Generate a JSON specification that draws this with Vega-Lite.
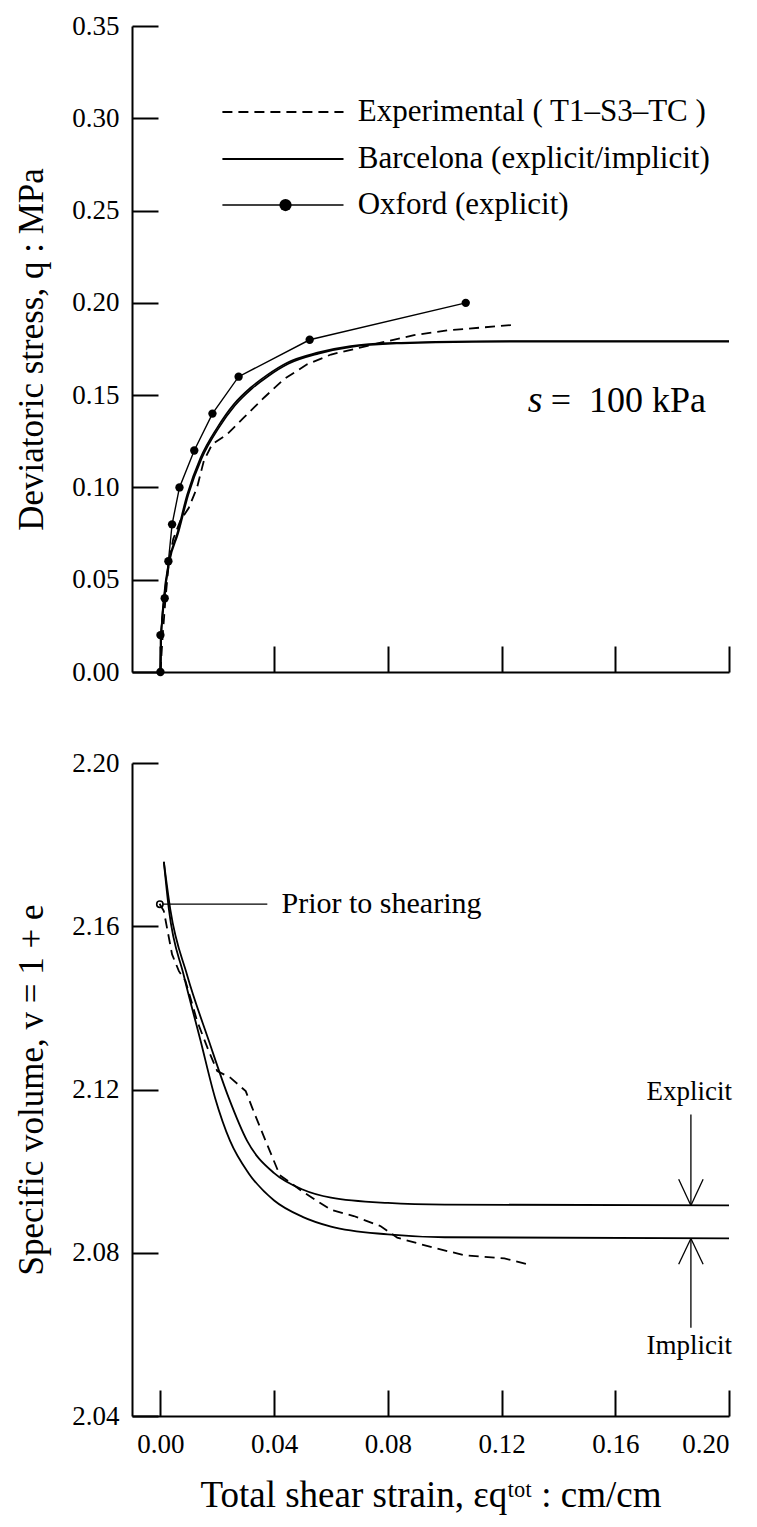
{
  "$schema": "https://vega.github.io/schema/vega-lite/v6.json",
  "padding": {"left": 14, "top": 12, "right": 25, "bottom": 5},
  "spacing": 64,
  "config": {
    "font": "Liberation Serif",
    "view": {"stroke": null},
    "axis": {
      "domainColor": "black", "domainWidth": 2, "tickColor": "black", "tickWidth": 2, "tickSize": -26,
      "labelColor": "black", "labelFont": "Liberation Serif", "labelFontSize": 27, "labelPadding": 39,
      "titleFont": "Liberation Serif", "titleFontSize": 35, "titleFontWeight": "normal", "titleColor": "black",
      "grid": false
    }
  },
  "datasets": {
    "q_exp": [
      {"strain": 0, "q": 0}, {"strain": 0.0008, "q": 0.02}, {"strain": 0.0018, "q": 0.04}, {"strain": 0.003, "q": 0.06},
      {"strain": 0.0045, "q": 0.072}, {"strain": 0.007, "q": 0.082}, {"strain": 0.01, "q": 0.089}, {"strain": 0.0129, "q": 0.1},
      {"strain": 0.0147, "q": 0.111}, {"strain": 0.0153, "q": 0.1145}, {"strain": 0.0182, "q": 0.1234}, {"strain": 0.0235, "q": 0.1288},
      {"strain": 0.0293, "q": 0.1378}, {"strain": 0.0364, "q": 0.1486}, {"strain": 0.0434, "q": 0.1586}, {"strain": 0.0516, "q": 0.1667},
      {"strain": 0.06, "q": 0.172}, {"strain": 0.0775, "q": 0.1784}, {"strain": 0.0892, "q": 0.1825}, {"strain": 0.101, "q": 0.1851},
      {"strain": 0.1238, "q": 0.188}
    ],
    "q_barc_exp": [
      {"strain": 0, "q": 0}, {"strain": 0.0003, "q": 0.02}, {"strain": 0.0012, "q": 0.04}, {"strain": 0.003, "q": 0.06},
      {"strain": 0.0059, "q": 0.075}, {"strain": 0.0094, "q": 0.096}, {"strain": 0.0141, "q": 0.116}, {"strain": 0.02, "q": 0.1324},
      {"strain": 0.0258, "q": 0.145}, {"strain": 0.0317, "q": 0.154}, {"strain": 0.0376, "q": 0.161}, {"strain": 0.0446, "q": 0.1676},
      {"strain": 0.0552, "q": 0.173}, {"strain": 0.0669, "q": 0.1766}, {"strain": 0.0845, "q": 0.1784}, {"strain": 0.11, "q": 0.1792},
      {"strain": 0.15, "q": 0.1793}, {"strain": 0.2, "q": 0.1793}
    ],
    "q_barc_imp": [
      {"strain": 0, "q": 0}, {"strain": 0.0003, "q": 0.02}, {"strain": 0.0013, "q": 0.04}, {"strain": 0.0032, "q": 0.06},
      {"strain": 0.0062, "q": 0.075}, {"strain": 0.0098, "q": 0.096}, {"strain": 0.0145, "q": 0.1157}, {"strain": 0.0204, "q": 0.132},
      {"strain": 0.0262, "q": 0.1444}, {"strain": 0.0321, "q": 0.1534}, {"strain": 0.038, "q": 0.1604}, {"strain": 0.045, "q": 0.167},
      {"strain": 0.0556, "q": 0.1725}, {"strain": 0.0673, "q": 0.1762}, {"strain": 0.0849, "q": 0.1781}, {"strain": 0.11, "q": 0.1789},
      {"strain": 0.15, "q": 0.179}, {"strain": 0.2, "q": 0.179}
    ],
    "q_oxford": [
      {"strain": 0, "q": 0}, {"strain": 0, "q": 0.02}, {"strain": 0.0015, "q": 0.04}, {"strain": 0.0028, "q": 0.06},
      {"strain": 0.0041, "q": 0.08}, {"strain": 0.0067, "q": 0.1}, {"strain": 0.0119, "q": 0.12}, {"strain": 0.0183, "q": 0.14},
      {"strain": 0.0275, "q": 0.16}, {"strain": 0.0525, "q": 0.18}, {"strain": 0.1074, "q": 0.2}
    ],
    "v_exp": [
      {"strain": -0.0003, "v": 2.1655}, {"strain": 0.0012, "v": 2.1637}, {"strain": 0.0041, "v": 2.1531}, {"strain": 0.0065, "v": 2.149},
      {"strain": 0.0088, "v": 2.1466}, {"strain": 0.0129, "v": 2.1368}, {"strain": 0.017, "v": 2.1294}, {"strain": 0.02, "v": 2.1245},
      {"strain": 0.0246, "v": 2.1229}, {"strain": 0.03, "v": 2.1196}, {"strain": 0.0323, "v": 2.1155}, {"strain": 0.037, "v": 2.1074},
      {"strain": 0.042, "v": 2.099}, {"strain": 0.05, "v": 2.095}, {"strain": 0.06, "v": 2.0905}, {"strain": 0.068, "v": 2.089},
      {"strain": 0.0775, "v": 2.0865}, {"strain": 0.0833, "v": 2.0837}, {"strain": 0.0962, "v": 2.0812}, {"strain": 0.107, "v": 2.0794},
      {"strain": 0.121, "v": 2.0786}, {"strain": 0.129, "v": 2.0772}
    ],
    "v_barc_exp": [
      {"strain": 0.0012, "v": 2.1758}, {"strain": 0.0035, "v": 2.164}, {"strain": 0.0094, "v": 2.148}, {"strain": 0.017, "v": 2.132},
      {"strain": 0.024, "v": 2.118}, {"strain": 0.0305, "v": 2.1074}, {"strain": 0.04, "v": 2.0995}, {"strain": 0.05, "v": 2.0955},
      {"strain": 0.06, "v": 2.0935}, {"strain": 0.08, "v": 2.0922}, {"strain": 0.1, "v": 2.0918}, {"strain": 0.2, "v": 2.0916}
    ],
    "v_barc_imp": [
      {"strain": 0.0012, "v": 2.1758}, {"strain": 0.003, "v": 2.164}, {"strain": 0.0082, "v": 2.148}, {"strain": 0.0141, "v": 2.132},
      {"strain": 0.0192, "v": 2.118}, {"strain": 0.0245, "v": 2.1074}, {"strain": 0.031, "v": 2.0995}, {"strain": 0.04, "v": 2.0928},
      {"strain": 0.05, "v": 2.0888}, {"strain": 0.06, "v": 2.0864}, {"strain": 0.08, "v": 2.0845}, {"strain": 0.1, "v": 2.0838},
      {"strain": 0.2, "v": 2.0835}
    ]
  },
  "vconcat": [
    {
      "width": 597,
      "height": 646,
      "encoding": {
        "x": {"field": "strain", "type": "quantitative", "scale": {"domain": [-0.01, 0.2], "nice": false, "zero": false},
              "axis": {"values": [0, 0.04, 0.08, 0.12, 0.16, 0.2], "labels": false, "title": null}},
        "y": {"field": "q", "type": "quantitative", "scale": {"domain": [0, 0.35], "nice": false, "zero": false},
              "axis": {"values": [0, 0.05, 0.1, 0.15, 0.2, 0.25, 0.3, 0.35], "format": ".2f", "title": "Deviatoric stress, q : MPa", "titlePadding": 22}}
      },
      "layer": [
        {"data": {"name": "q_exp"}, "mark": {"type": "line", "color": "black", "strokeWidth": 1.8, "strokeDash": [10, 6]}},
        {"data": {"name": "q_barc_exp"}, "mark": {"type": "line", "color": "black", "strokeWidth": 1.7, "interpolate": "monotone"}},
        {"data": {"name": "q_barc_imp"}, "mark": {"type": "line", "color": "black", "strokeWidth": 1.7, "interpolate": "monotone"}},
        {"data": {"name": "q_oxford"}, "mark": {"type": "line", "color": "black", "strokeWidth": 1.4}},
        {"data": {"name": "q_oxford"}, "mark": {"type": "point", "filled": true, "color": "black", "size": 70, "opacity": 1}},
        {"data": {"values": [{"strain": 0.0218, "strain2": 0.0644, "q": 0.3034}]},
         "mark": {"type": "rule", "color": "black", "strokeWidth": 1.8, "strokeDash": [10, 6]},
         "encoding": {"x2": {"field": "strain2"}}},
        {"data": {"values": [{"strain": 0.0218, "strain2": 0.0644, "q": 0.278}]},
         "mark": {"type": "rule", "color": "black", "strokeWidth": 2},
         "encoding": {"x2": {"field": "strain2"}}},
        {"data": {"values": [{"strain": 0.0218, "strain2": 0.0644, "q": 0.253}]},
         "mark": {"type": "rule", "color": "black", "strokeWidth": 1.4},
         "encoding": {"x2": {"field": "strain2"}}},
        {"data": {"values": [{"strain": 0.044, "q": 0.253}]},
         "mark": {"type": "point", "filled": true, "color": "black", "size": 150, "opacity": 1}},
        {"data": {"values": [
            {"strain": 0.0694, "q": 0.3034, "label": "Experimental ( T1–S3–TC )"},
            {"strain": 0.0694, "q": 0.278, "label": "Barcelona (explicit/implicit)"},
            {"strain": 0.0694, "q": 0.253, "label": "Oxford (explicit)"}]},
         "mark": {"type": "text", "align": "left", "baseline": "middle", "fontSize": 31, "color": "black"},
         "encoding": {"text": {"field": "label"}}},
        {"data": {"values": [{"strain": 0.1292, "q": 0.1468, "label": "s"}]},
         "mark": {"type": "text", "align": "left", "baseline": "middle", "fontSize": 38, "fontStyle": "italic", "color": "black"},
         "encoding": {"text": {"field": "label"}}},
        {"data": {"values": [{"strain": 0.1373, "q": 0.1468, "label": "=\u2002100 kPa"}]},
         "mark": {"type": "text", "align": "left", "baseline": "middle", "fontSize": 36, "color": "black"},
         "encoding": {"text": {"field": "label"}}}
      ]
    },
    {
      "width": 597,
      "height": 653,
      "encoding": {
        "x": {"field": "strain", "type": "quantitative", "scale": {"domain": [-0.01, 0.2], "nice": false, "zero": false},
              "axis": {"values": [0, 0.04, 0.08, 0.12, 0.16, 0.2], "format": ".2f", "labelPadding": 41, "titlePadding": 20,
                       "titleFontSize": 37, "title": "Total shear strain, εqᵗᵒᵗ : cm/cm"}},
        "y": {"field": "v", "type": "quantitative", "scale": {"domain": [2.04, 2.2], "nice": false, "zero": false},
              "axis": {"values": [2.04, 2.08, 2.12, 2.16, 2.2], "format": ".2f", "title": "Specific volume, v = 1 + e", "titlePadding": 22}}
      },
      "layer": [
        {"data": {"name": "v_exp"}, "mark": {"type": "line", "color": "black", "strokeWidth": 1.8, "strokeDash": [10, 6]}},
        {"data": {"name": "v_barc_exp"}, "mark": {"type": "line", "color": "black", "strokeWidth": 1.8, "interpolate": "monotone"}},
        {"data": {"name": "v_barc_imp"}, "mark": {"type": "line", "color": "black", "strokeWidth": 1.8, "interpolate": "monotone"}},
        {"data": {"values": [{"strain": -0.0002, "v": 2.1654}]},
         "mark": {"type": "point", "filled": false, "color": "black", "size": 40, "strokeWidth": 1.6, "opacity": 1}},
        {"data": {"values": [{"strain": 0.0008, "strain2": 0.0376, "v": 2.1654}]},
         "mark": {"type": "rule", "color": "black", "strokeWidth": 1.3},
         "encoding": {"x2": {"field": "strain2"}}},
        {"data": {"values": [{"strain": 0.0426, "v": 2.1654, "label": "Prior to shearing"}]},
         "mark": {"type": "text", "align": "left", "baseline": "middle", "fontSize": 30, "color": "black"},
         "encoding": {"text": {"field": "label"}}},
        {"data": {"values": [
            {"strain": 0.1866, "strain2": 0.1866, "v": 2.1139, "v2": 2.0916},
            {"strain": 0.1823, "strain2": 0.1866, "v": 2.098, "v2": 2.0916},
            {"strain": 0.1909, "strain2": 0.1866, "v": 2.098, "v2": 2.0916},
            {"strain": 0.1866, "strain2": 0.1866, "v": 2.0835, "v2": 2.0616},
            {"strain": 0.1823, "strain2": 0.1866, "v": 2.0772, "v2": 2.0835},
            {"strain": 0.1909, "strain2": 0.1866, "v": 2.0772, "v2": 2.0835}]},
         "mark": {"type": "rule", "color": "black", "strokeWidth": 1.3},
         "encoding": {"x2": {"field": "strain2"}, "y2": {"field": "v2"}}},
        {"data": {"values": [
            {"strain": 0.186, "v": 2.1193, "label": "Explicit"},
            {"strain": 0.186, "v": 2.0571, "label": "Implicit"}]},
         "mark": {"type": "text", "align": "center", "baseline": "middle", "fontSize": 27, "color": "black"},
         "encoding": {"text": {"field": "label"}}}
      ]
    }
  ]
}
